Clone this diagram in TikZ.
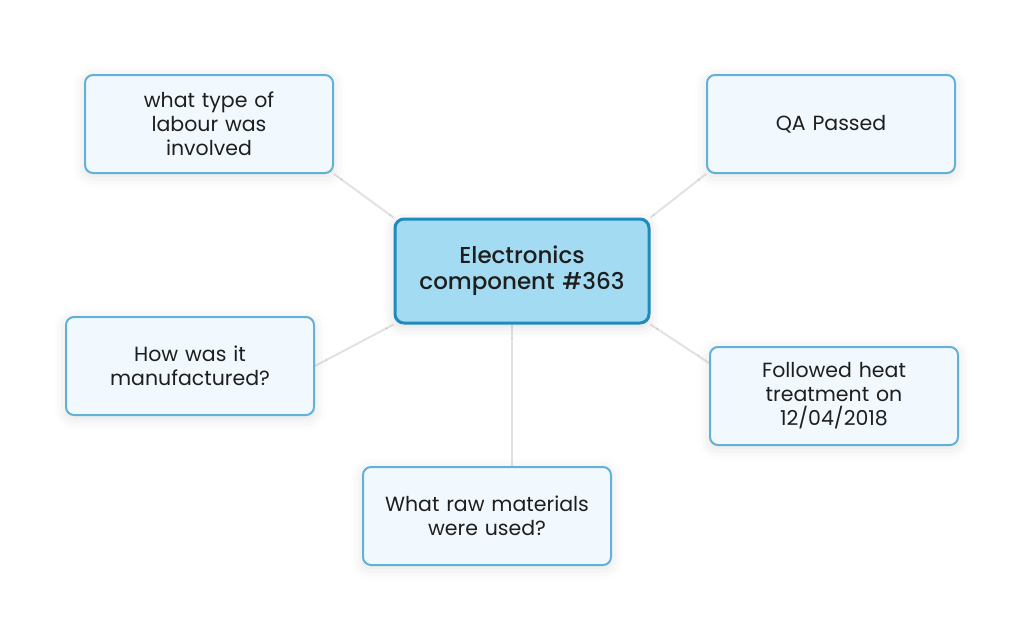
\documentclass[tikz,border=0pt]{standalone}
\usepackage{fontspec}
\setmainfont{Poppins}[BoldFont={Poppins Medium}]
\usetikzlibrary{shadows.blur,backgrounds}
\definecolor{hubfill}{HTML}{A3DBF2}
\definecolor{hubline}{HTML}{1F8BBD}
\definecolor{leaffill}{HTML}{F2F9FE}
\definecolor{leafline}{HTML}{63B1D6}
\definecolor{linkgray}{HTML}{E2E2E2}
\definecolor{txt}{HTML}{1E1E1E}
\begin{document}
\begin{tikzpicture}[x=1pt, y=-1pt,
	leaf/.style={draw=leafline, fill=leaffill, line width=2pt, rounded corners=8pt, minimum width=248pt, minimum height=98pt, inner sep=0pt, align=center, text width=220pt, text=txt, font=\fontsize{20.5}{24}\selectfont, blur shadow={shadow xshift=0pt, shadow yshift=-3pt, shadow blur radius=12pt, shadow opacity=12}},
	hub/.style={draw=hubline, fill=hubfill, line width=3pt, rounded corners=9pt, minimum width=254pt, minimum height=104pt, inner sep=0pt, align=center, text width=240pt, text=txt, font=\fontsize{23}{26}\selectfont\bfseries, blur shadow={shadow xshift=0pt, shadow yshift=-3pt, shadow blur radius=12pt, shadow opacity=15}},
	link/.style={draw=linkgray, line width=2pt}]
				\useasboundingbox (0,0) rectangle (1024,640);
				\node (hub) [hub] at (522,271) {Electronics\\component \#363};
				\node (labour) [leaf] at (209,124) {what type of\\labour was\\involved};
				\node (qa) [leaf] at (831,124) {QA Passed};
				\node (made) [leaf] at (190,366) {How was it\\manufactured?};
				\node (heat) [leaf] at (834,396) {Followed heat\\treatment on\\12/04/2018};
				\node (raw) [leaf] at (487,516) {What raw materials\\were used?};

				\begin{scope}[on background layer]
				\draw[link] (hub.north west) -- (labour.south east);
				\draw[link] (hub.north east) -- (qa.south west);
				\draw[link] (hub.south west) -- (made.east);
				\draw[link] (hub.south east) -- ([yshift=33pt]heat.west);
				\draw[link] ([xshift=-10pt]hub.south) -- ([xshift=-10pt]hub.south |- raw.north);
				\end{scope}
			\end{tikzpicture}
\end{document}
